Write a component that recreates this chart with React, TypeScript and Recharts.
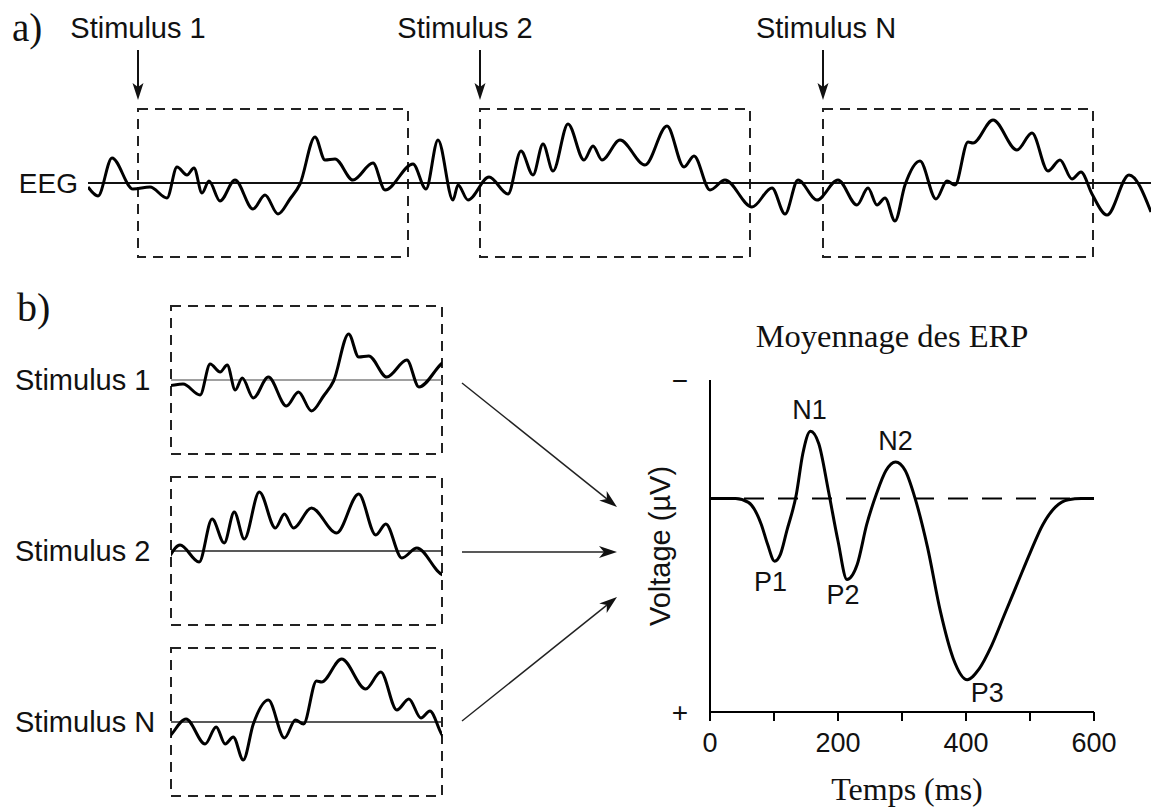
import React from 'react';
import { LineChart, Line, XAxis, YAxis, ReferenceLine, ReferenceArea, ReferenceDot } from 'recharts';

// EEG trace (a), time from start of trace, amplitude up = positive
const eegTimes = [0, 10, 24, 45, 62, 79, 89, 99, 106, 114, 121, 132, 147, 165, 177, 190, 202, 212, 227, 237, 247, 265, 285, 297, 325, 338, 350, 365, 370, 380, 401, 420, 433, 445, 455, 465, 480, 496, 505, 514, 532, 557, 579, 596, 606, 622, 637, 664, 684, 697, 710, 729, 750, 769, 780, 789, 797, 807, 817, 832, 848, 859, 867, 880, 885, 905, 929, 944, 960, 972, 984, 993, 1004, 1019, 1041, 1063];
const eegValues = [-4, -13, 25, -6, -4, -15, 16, 8, 15, -10, 2, -18, 3, -26, -12, -31, -16, -1, 46, 23, 24, 3, 20, -7, 19, -6, 43, -17, -2, -17, 6, -11, 32, 8, 39, 12, 59, 23, 37, 23, 43, 18, 57, 16, 27, -7, 3, -24, -5, -31, 3, -17, 3, -22, -5, -22, -15, -38, -2, 22, -16, 2, -2, 41, 40, 63, 33, 50, 12, 23, 4, 11, -11, -32, 8, -29];

const stimulusNames = ['Stimulus 1', 'Stimulus 2', 'Stimulus N'];
const stimulusOnsets = [50, 392, 735];
const epochLength = 270;

// averaged ERP (b), negative plotted upwards
const erpTimes = [0, 40, 60, 80, 90, 101, 110, 120, 135, 145, 157, 170, 185, 200, 214, 230, 245, 260, 275, 290, 305, 320, 340, 360, 380, 402, 420, 440, 460, 480, 500, 520, 540, 560, 580, 600];
const erpValues = [0, 0, 0.16, 1.08, 1.93, 2.64, 2.35, 1.36, -0.19, -1.89, -2.84, -2.31, -0.33, 1.79, 3.41, 2.78, 1.08, -0.19, -1.18, -1.54, -1.18, -0.05, 2.07, 4.76, 6.74, 7.64, 7.2, 6.2, 4.9, 3.6, 2.3, 1.1, 0.35, 0.05, 0, 0];
const peakNames = ['P1', 'N1', 'P2', 'N2', 'P3'];
const peakTimes = [101, 157, 214, 290, 402];
const peakValues = [2.64, -2.84, 3.41, -1.54, 7.64];
const timeTicks = [0, 100, 200, 300, 400, 500, 600];

const SANS = '"Liberation Sans", Arial, sans-serif';
const SERIF = '"Liberation Serif", "Times New Roman", serif';
const INK = '#111';

const eegData = eegTimes.map((t, i) => ({ t, v: eegValues[i] }));
const erpData = erpTimes.map((t, i) => ({ t, v: erpValues[i] }));

// label nudges around each peak (px)
const peakLabelShift: Record<string, [number, number]> = {
  P1: [-4, 21],
  N1: [-1, -21],
  P2: [-4, 16],
  N2: [0, -21],
  P3: [20, 13],
};
const stimLabelShift = [0, -15, 3];

const stimArrow = (label: string, shift: number) => (p: any) => {
  const { x1, y1, x2, y2 } = p;
  return (
    <g>
      <line x1={x1} y1={y1} x2={x2} y2={y2 - 10} stroke={INK} strokeWidth={2} />
      <path d={`M${x2},${y2} L${x2 - 5.5},${y2 - 17} L${x2},${y2 - 13} L${x2 + 5.5},${y2 - 17} Z`} fill={INK} />
      <text x={x1 + shift} y={y1 - 22} textAnchor="middle" dominantBaseline="central" fontSize={29} fontFamily={SANS} fill={INK}>
        {label}
      </text>
    </g>
  );
};

const peakLabel = (name: string) => (p: any) => {
  const [dx, dy] = peakLabelShift[name];
  return (
    <text x={p.cx + dx} y={p.cy + dy} textAnchor="middle" dominantBaseline="central" fontSize={27} fontFamily={SANS} fill={INK}>
      {name}
    </text>
  );
};

const arrowPath = (x1: number, y1: number, x2: number, y2: number) => {
  const a = Math.atan2(y2 - y1, x2 - x1);
  const c = Math.cos(a);
  const s = Math.sin(a);
  const len = 18;
  const half = 6;
  const notch = 13;
  const bx = x2 - len * c;
  const by = y2 - len * s;
  const nx = x2 - notch * c;
  const ny = y2 - notch * s;
  return {
    head: `M${x2},${y2} L${bx - half * s},${by + half * c} L${nx},${ny} L${bx + half * s},${by - half * c} Z`,
    end: [nx, ny],
  };
};

const EegStrip = () => (
  <LineChart width={1151} height={290} data={eegData} margin={{ top: 0, right: 0, bottom: 0, left: 0 }}>
    <XAxis type="number" dataKey="t" domain={[0, 1063]} allowDataOverflow hide />
    <YAxis
      type="number"
      domain={[-107, 183]}
      allowDataOverflow
      ticks={[0]}
      tickFormatter={() => 'EEG'}
      width={88}
      axisLine={false}
      tickLine={false}
      tickSize={0}
      tickMargin={10}
      tick={{ fontSize: 28, fill: INK, fontFamily: SANS }}
    />
    <ReferenceLine y={0} stroke={INK} strokeWidth={2} />
    {stimulusOnsets.map((t) => (
      <ReferenceArea key={`box-${t}`} x1={t} x2={t + epochLength} y1={-74} y2={74} fill="none" fillOpacity={0} stroke="#222" strokeWidth={2} strokeDasharray="10 7" />
    ))}
    {stimulusOnsets.map((t, i) => (
      <ReferenceLine key={`stim-${t}`} segment={[{ x: t, y: 133 }, { x: t, y: 83 }]} shape={stimArrow(stimulusNames[i], stimLabelShift[i])} />
    ))}
    <Line type="monotone" dataKey="v" stroke="#000" strokeWidth={3} dot={false} isAnimationActive={false} />
  </LineChart>
);

const Epoch = ({ onset, name, baseColor }: { onset: number; name: string; baseColor: string }) => (
  <LineChart width={446} height={170} data={eegData} margin={{ top: 5, right: 4, bottom: 5, left: 0 }}>
    <XAxis type="number" dataKey="t" domain={[onset, onset + epochLength]} allowDataOverflow hide />
    <YAxis
      type="number"
      domain={[-80, 80]}
      allowDataOverflow
      ticks={[0]}
      width={171}
      axisLine={false}
      tickLine={false}
      tick={(p: any) => (
        <text x={15} y={p.y} dominantBaseline="central" fontSize={29} fontFamily={SANS} fill={INK}>
          {name}
        </text>
      )}
    />
    <ReferenceLine y={0} stroke={baseColor} strokeWidth={1.5} />
    <ReferenceArea x1={onset} x2={onset + epochLength} y1={-74} y2={74} fill="none" fillOpacity={0} stroke="#222" strokeWidth={2} strokeDasharray="10 7" />
    <Line type="monotone" dataKey="v" stroke="#000" strokeWidth={3} dot={false} isAnimationActive={false} />
  </LineChart>
);

const ErpChart = () => (
  <LineChart width={551} height={447} data={erpData} margin={{ top: 20, right: 57, bottom: 0, left: 0 }}>
    <XAxis
      type="number"
      dataKey="t"
      domain={[0, 600]}
      ticks={timeTicks}
      interval={0}
      tickFormatter={(v: number) => (v % 200 === 0 ? String(v) : '')}
      height={95}
      tickSize={9}
      tickMargin={12}
      axisLine={{ stroke: '#000', strokeWidth: 2 }}
      tickLine={{ stroke: '#000', strokeWidth: 2 }}
      tick={{ fontSize: 27, fill: INK, fontFamily: SANS }}
      label={{ value: 'Temps (ms)', position: 'insideBottom', offset: 7, dx: 5, fontSize: 32, fill: INK, fontFamily: SERIF }}
    />
    <YAxis
      type="number"
      domain={[-5, 9]}
      reversed
      allowDataOverflow
      ticks={[-5, 9]}
      interval={0}
      tickFormatter={(v: number) => (v < 0 ? '\u2212' : '+')}
      width={110}
      tickSize={0}
      tickMargin={22}
      tickLine={false}
      axisLine={{ stroke: '#000', strokeWidth: 2 }}
      tick={{ fontSize: 28, fill: INK, fontFamily: SANS }}
      label={{ value: 'Voltage (µV)', angle: -90, position: 'insideLeft', offset: 60, fontSize: 29, fill: INK, fontFamily: SANS, style: { textAnchor: 'middle' } }}
    />
    <ReferenceLine y={0} stroke="#000" strokeWidth={2} strokeDasharray="20 14" />
    <Line type="monotone" dataKey="v" stroke="#000" strokeWidth={3} dot={false} isAnimationActive={false} />
    {peakNames.map((n, i) => (
      <ReferenceDot key={n} x={peakTimes[i]} y={peakValues[i]} r={0} shape={peakLabel(n)} />
    ))}
  </LineChart>
);

const links = [
  [462, 383, 617, 507],
  [462, 552, 617, 552],
  [462, 721, 617, 597],
];

export default function App() {
  return (
    <div style={{ position: 'absolute', left: 0, top: 0, width: 1151, height: 807, background: '#fff', overflow: 'hidden' }}>
      <div style={{ position: 'absolute', left: 0, top: 0 }}>
        <EegStrip />
      </div>
      <div style={{ position: 'absolute', left: 0, top: 295 }}>
        <Epoch onset={stimulusOnsets[0]} name={stimulusNames[0]} baseColor="#808080" />
      </div>
      <div style={{ position: 'absolute', left: 0, top: 466 }}>
        <Epoch onset={stimulusOnsets[1]} name={stimulusNames[1]} baseColor="#222" />
      </div>
      <div style={{ position: 'absolute', left: 0, top: 637 }}>
        <Epoch onset={stimulusOnsets[2]} name={stimulusNames[2]} baseColor="#222" />
      </div>
      <div style={{ position: 'absolute', left: 600, top: 360 }}>
        <ErpChart />
      </div>
      <svg width={1151} height={807} style={{ position: 'absolute', left: 0, top: 0, pointerEvents: 'none' }}>
        <text x={12} y={41} fontFamily={SERIF} fontSize={39} fill={INK}>a)</text>
        <text x={17} y={321} fontFamily={SERIF} fontSize={40} fill={INK}>b)</text>
        <text x={892} y={347} textAnchor="middle" fontFamily={SERIF} fontSize={32.5} fill={INK}>Moyennage des ERP</text>
        {links.map(([x1, y1, x2, y2], i) => {
          const a = arrowPath(x1, y1, x2, y2);
          return (
            <g key={i}>
              <line x1={x1} y1={y1} x2={a.end[0]} y2={a.end[1]} stroke="#222" strokeWidth={1.5} />
              <path d={a.head} fill="#111" />
            </g>
          );
        })}
      </svg>
    </div>
  );
}
